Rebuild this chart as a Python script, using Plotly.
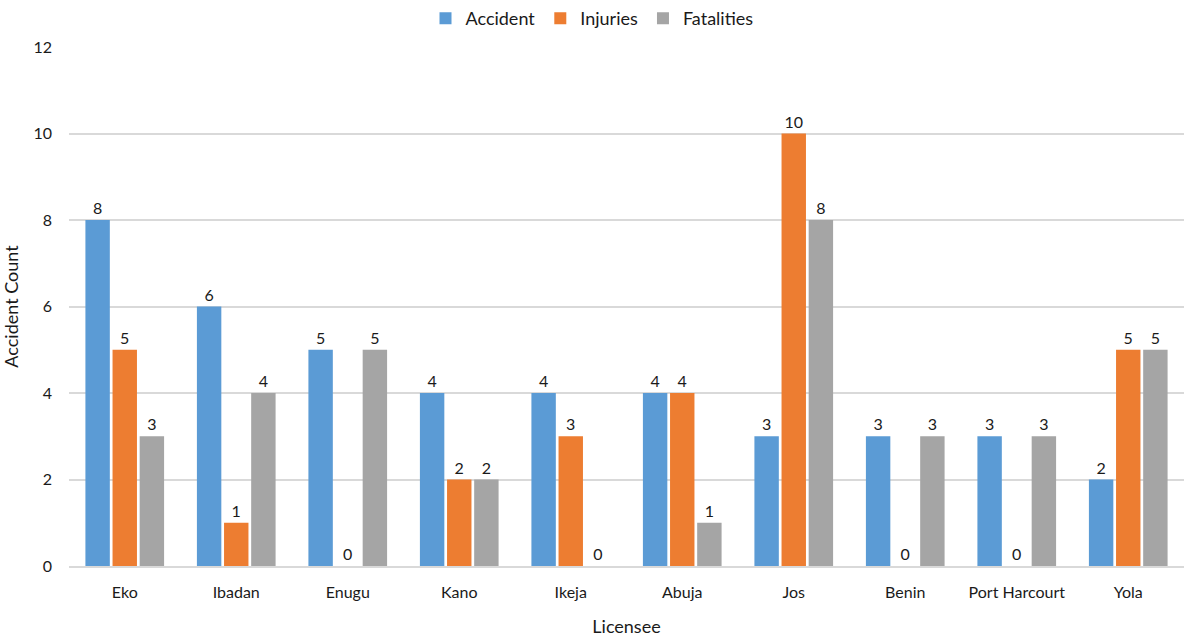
import plotly.graph_objects as go

licensees = ["Eko", "Ibadan", "Enugu", "Kano", "Ikeja", "Abuja", "Jos", "Benin", "Port Harcourt", "Yola"]
accident = [8, 6, 5, 4, 4, 4, 3, 3, 3, 2]
injuries = [5, 1, 0, 2, 3, 4, 10, 0, 0, 5]
fatalities = [3, 4, 5, 2, 0, 1, 8, 3, 3, 5]

series = [
    ("Accident", accident, "#5B9BD5"),
    ("Injuries", injuries, "#ED7D31"),
    ("Fatalities", fatalities, "#A5A5A5"),
]

FONT = "Lato, Open Sans, sans-serif"
TXT = "#1a1a1a"

fig = go.Figure()
for name, vals, color in series:
    fig.add_trace(go.Bar(
        name=name,
        x=licensees,
        y=vals,
        marker=dict(color=color, line=dict(width=0)),
        text=[str(v) for v in vals],
        textposition="outside",
        cliponaxis=False,
        textfont=dict(family=FONT, size=16, color=TXT),
    ))

fig.update_layout(
    width=1184,
    height=641,
    barmode="group",
    bargap=0.27,
    bargroupgap=0.1,
    plot_bgcolor="white",
    paper_bgcolor="white",
    font=dict(family=FONT, size=16, color=TXT),
    margin=dict(l=69, r=0, t=47, b=75, autoexpand=False),
    legend=dict(
        orientation="h",
        x=0.5, xanchor="center",
        xref="container",
        y=1.0, yanchor="top",
        yref="container",
        font=dict(family=FONT, size=18, color=TXT),
        itemwidth=30,
        traceorder="normal",
    ),
    xaxis=dict(
        title=dict(text="Licensee", font=dict(size=18), standoff=20),
        showgrid=False,
        showline=True,
        linecolor="#D9D9D9",
        linewidth=2,
        ticks="",
        ticklabelstandoff=11,
    ),
    yaxis=dict(
        title=dict(text="Accident Count", font=dict(size=18), standoff=12),
        range=[0, 12],
        dtick=2,
        showgrid=True,
        gridcolor="#D9D9D9",
        gridwidth=1.5,
        zeroline=False,
        ticks="",
        ticklabelstandoff=16,
    ),
)

fig.write_html("out.html")
